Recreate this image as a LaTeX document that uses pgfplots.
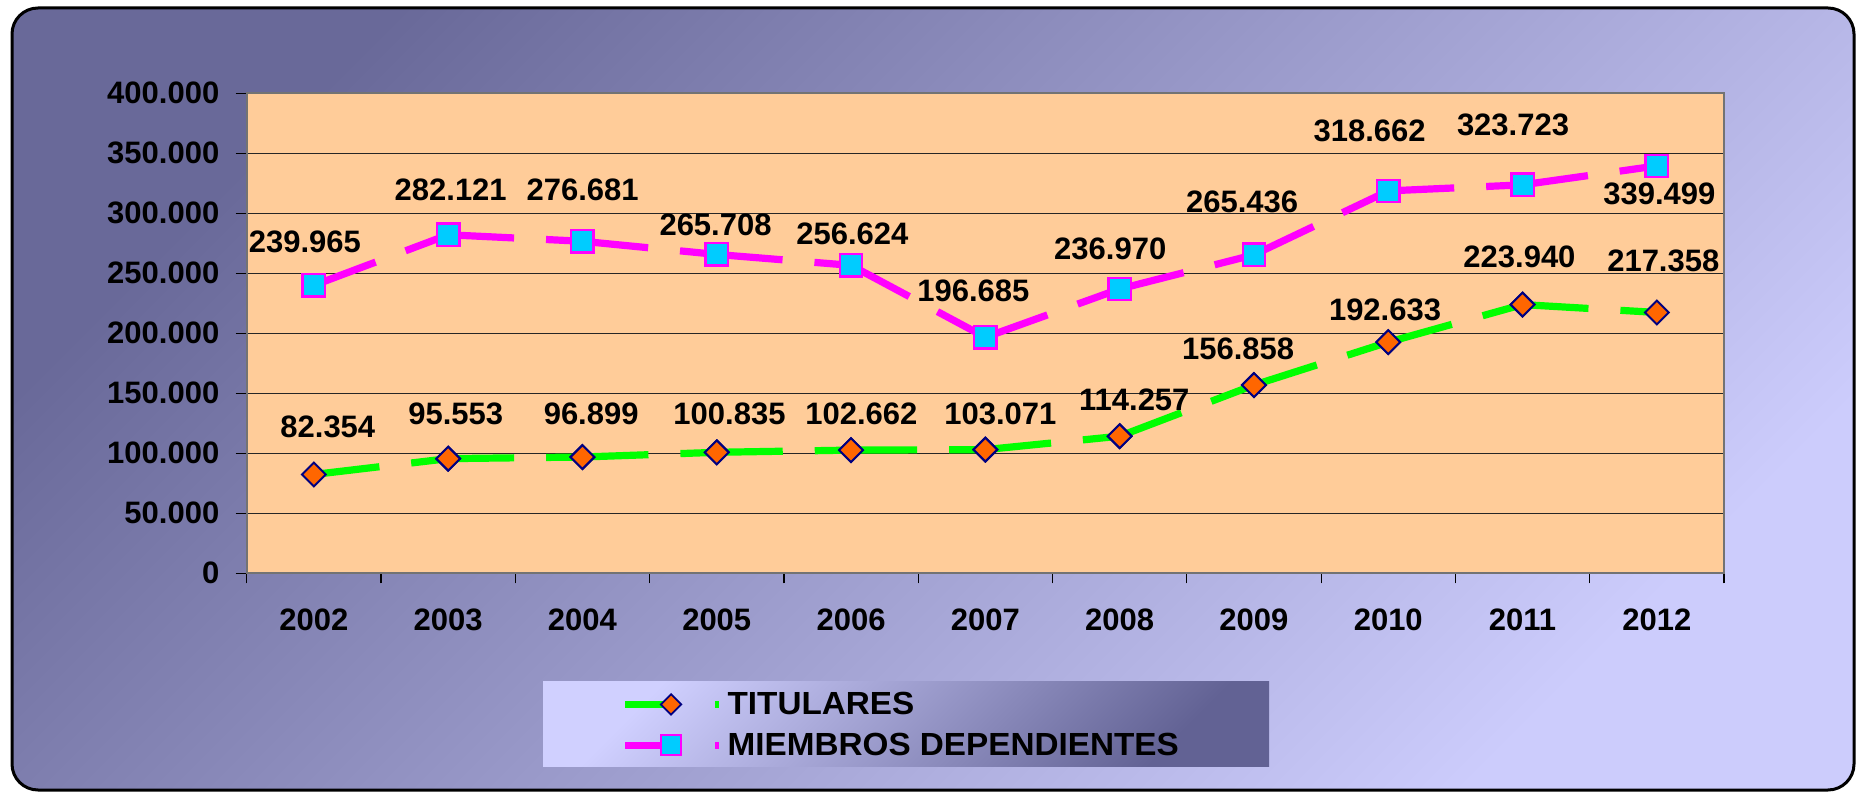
\documentclass[border=0pt]{standalone}
\usepackage{fontspec}
\setmainfont{Liberation Sans}
\newfontfamily\legfont[FakeStretch=1.04]{Liberation Sans}
\usepackage{pgfplots}
\pgfplotsset{compat=1.18}

\definecolor{bgdark}{RGB}{105,105,153}
\definecolor{bglight}{RGB}{204,204,252}
\definecolor{legdark}{RGB}{98,98,148}
\definecolor{leglight}{RGB}{208,208,255}
\definecolor{plotbg}{RGB}{255,204,153}
\definecolor{titfill}{RGB}{255,102,0}
\definecolor{titedge}{RGB}{0,0,128}
\definecolor{miefill}{RGB}{0,204,255}
\definecolor{lgreen}{RGB}{0,255,0}
\definecolor{lmag}{RGB}{255,0,255}

\newcommand\lblfont{\bfseries\fontsize{15.5pt}{18pt}\selectfont}

\begin{document}
\begin{tikzpicture}
\useasboundingbox (0,0) rectangle (928.5pt,396.5pt);
% background panel and legend box
\shadedraw[top color=bgdark, bottom color=bglight, shading angle=45,
  draw=black, line width=1.5pt, rounded corners=13pt] (6pt,1.5pt) rectangle (927pt,392.5pt);
\shade[top color=leglight, bottom color=legdark, shading angle=45] (271.5pt,13.5pt) rectangle (634.5pt,56pt);

\begin{axis}[
  at={(123.35pt,109.85pt)}, anchor=south west,
  scale only axis, width=738.65pt, height=240pt,
  xmin=-0.5, xmax=10.5, ymin=0, ymax=400000,
  axis background/.style={fill=plotbg},
  axis line style={draw=black!55, line width=1pt},
  xtick={0,...,10},
  xticklabels={2002,2003,2004,2005,2006,2007,2008,2009,2010,2011,2012},
  major x tick style={draw=none},
  minor xtick={-0.5,0.5,...,10.5},
  minor x tick style={black, line width=0.6pt},
  ytick={0,50000,...,400000},
  yticklabels={0,50.000,100.000,150.000,200.000,250.000,300.000,350.000,400.000},
  y tick style={black, line width=0.6pt},
  tick align=outside, tick pos=left,
  major tick length=5.5pt, minor tick length=5pt,
  ymajorgrids, major grid style={black!85, line width=0.7pt},
  scaled y ticks=false,
  ticklabel style={font=\lblfont, inner sep=0pt},
  xticklabel style={anchor=north}, xticklabel shift=12pt,
  yticklabel style={anchor=east}, yticklabel shift=8pt,
  legend style={at={(axis description cs:0.2534,-0.246)}, anchor=north west,
    draw=none, fill=none, inner sep=0pt, row sep=7.8pt, column sep=2.5pt,
    font=\legfont\bfseries\fontsize{16pt}{18pt}\selectfont,
    nodes={inner sep=0pt}},
  legend cell align=left,
  unbounded coords=jump,
]

% TITULARES (each segment starts a new dash, as in the original)
\addplot[lgreen, line width=3.6pt, dash pattern=on 33pt off 16pt,
  mark=square*, mark size=4.2pt,
  mark options={solid, rotate=45, fill=titfill, draw=titedge, line width=1pt},
  legend image code/.code={
    \draw[solid, lgreen, line width=3.6pt] (0pt,0pt) -- (23pt,0pt);
    \draw[solid, lgreen, line width=3.6pt] (45pt,0pt) -- (47pt,0pt);
    \draw plot[mark=square*, mark size=3.6pt, mark options={solid, rotate=45,
      fill=titfill, draw=titedge, line width=0.9pt}] coordinates {(23pt,0pt)};
  }] table {
x y
0 82354
1 95553
nan nan
1 95553
2 96899
nan nan
2 96899
3 100835
nan nan
3 100835
4 102662
nan nan
4 102662
5 103071
nan nan
5 103071
6 114257
nan nan
6 114257
7 156858
nan nan
7 156858
8 192633
nan nan
8 192633
9 223940
nan nan
9 223940
10 217358
};
\addlegendentry{TITULARES}

% MIEMBROS DEPENDIENTES
\addplot[lmag, line width=3.6pt, dash pattern=on 33pt off 16pt,
  mark=square*, mark size=5.6pt,
  mark options={solid, fill=miefill, draw=lmag, line width=1.2pt},
  legend image code/.code={
    \draw[solid, lmag, line width=3.6pt] (0pt,0pt) -- (23pt,0pt);
    \draw[solid, lmag, line width=3.6pt] (45pt,0pt) -- (47pt,0pt);
    \draw plot[mark=square*, mark size=5pt, mark options={solid,
      fill=miefill, draw=lmag, line width=1pt}] coordinates {(23pt,0pt)};
  }] table {
x y
0 239965
1 282121
nan nan
1 282121
2 276681
nan nan
2 276681
3 265708
nan nan
3 265708
4 256624
nan nan
4 256624
5 196685
nan nan
5 196685
6 236970
nan nan
6 236970
7 265436
nan nan
7 265436
8 318662
nan nan
8 318662
9 323723
nan nan
9 323723
10 339499
};
\addlegendentry{MIEMBROS DEPENDIENTES}

% data labels, placed where the original puts them
\addplot[forget plot, only marks, mark=*, mark size=0pt, mark options={draw=none, fill=none},
  nodes near coords, point meta=explicit symbolic,
  every node near coord/.style={anchor=center, inner sep=0pt, font=\lblfont, text=black}]
  table[meta=label] {
x y label
0.104 121667 82.354
1.057 132500 95.553
2.065 132500 96.899
3.095 132500 100.835
4.077 132500 102.662
5.112 132500 103.071
6.109 144583 114.257
6.882 186667 156.858
7.976 219167 192.633
8.977 263333 223.940
10.048 260000 217.358
};
\addplot[forget plot, only marks, mark=*, mark size=0pt, mark options={draw=none, fill=none},
  nodes near coords, point meta=explicit symbolic,
  every node near coord/.style={anchor=center, inner sep=0pt, font=\lblfont, text=black}]
  table[meta=label] {
x y label
-0.067 275833 239.965
1.019 319583 282.121
2.001 319583 276.681
2.991 290417 265.708
4.010 282500 256.624
4.911 235000 196.685
5.930 270000 236.970
6.912 309417 265.436
7.861 368750 318.662
8.929 373333 323.723
10.019 315833 339.499
};
\end{axis}
\end{tikzpicture}
\end{document}
